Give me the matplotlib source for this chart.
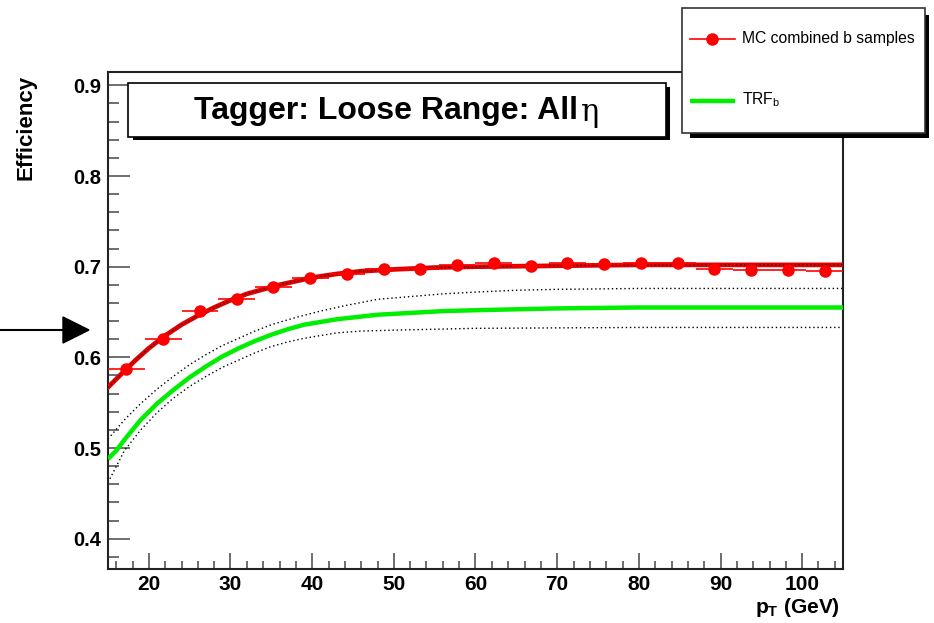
import numpy as np
import matplotlib
matplotlib.use("Agg")
import matplotlib.pyplot as plt
from matplotlib.patches import Rectangle, Polygon
from matplotlib.lines import Line2D

plt.rcParams['font.family'] = ['Liberation Sans', 'DejaVu Sans']
plt.rcParams['mathtext.fontset'] = 'custom'
plt.rcParams['mathtext.bf'] = 'Liberation Sans:bold'
plt.rcParams['mathtext.rm'] = 'Liberation Sans'
plt.rcParams['mathtext.it'] = 'Liberation Sans:italic'

# MC points (bin centres, efficiency)
pt_centers = [17.25, 21.75, 26.25, 30.75, 35.25, 39.75, 44.25, 48.75, 53.25, 57.75,
              62.25, 66.75, 71.25, 75.75, 80.25, 84.75, 89.25, 93.75, 98.25, 102.75]
mc_eff = [0.587, 0.620, 0.651, 0.664, 0.678, 0.687, 0.692, 0.697, 0.697, 0.702,
          0.704, 0.701, 0.704, 0.703, 0.704, 0.704, 0.697, 0.696, 0.696, 0.695]
bin_half = 2.25

# fit to MC
fit_x = [15, 16, 17, 18.5, 20, 22, 24, 26, 28, 30, 32, 34, 36, 38, 40, 43, 46,
         50, 55, 60, 70, 80, 105]
fit_y = [0.567, 0.576, 0.585, 0.598, 0.610, 0.624, 0.636, 0.646, 0.655, 0.663,
         0.670, 0.675, 0.680, 0.684, 0.688, 0.692, 0.695, 0.697, 0.699, 0.700,
         0.701, 0.702, 0.702]

# TRF_b curve and its band
trf_x = [15, 16, 17, 19, 21, 23, 25, 27, 29, 31, 33, 35, 37, 39, 41, 43, 45, 48,
         52, 56, 60, 65, 70, 80, 105]
trf_y = [0.488, 0.497, 0.509, 0.531, 0.549, 0.564, 0.578, 0.590, 0.601, 0.610,
         0.618, 0.625, 0.631, 0.636, 0.639, 0.642, 0.644, 0.647, 0.649, 0.651,
         0.652, 0.653, 0.654, 0.655, 0.655]
band_hi_x = [15, 17, 19, 21, 23, 25, 27, 29, 31, 33, 35, 38, 41, 44, 48, 52, 56,
             60, 65, 70, 80, 105]
band_hi = [0.510, 0.531, 0.549, 0.565, 0.579, 0.592, 0.603, 0.613, 0.621, 0.629,
           0.636, 0.644, 0.651, 0.657, 0.664, 0.667, 0.670, 0.672, 0.674, 0.675,
           0.676, 0.676]
band_lo_x = [15, 17, 19, 21, 23, 25, 27, 29, 31, 33, 35, 37, 39, 41, 43, 46, 50,
             60, 80, 105]
band_lo = [0.462, 0.497, 0.520, 0.539, 0.555, 0.568, 0.579, 0.589, 0.597, 0.605,
           0.612, 0.617, 0.621, 0.624, 0.627, 0.629, 0.630, 0.632, 0.633, 0.633]

W, H = 934, 623


def fx(x):
    return x / W


def fy(y):
    return 1 - y / H


fig = plt.figure(figsize=(W / 100, H / 100), dpi=100)
fig.patch.set_facecolor('white')

ax = fig.add_axes([fx(108), fy(569), (843 - 108) / W, (569 - 72) / H])
ax.set_xlim(15, 105)
ax.set_ylim(0.3666, 0.9147)

ax.plot(band_hi_x, band_hi, ls=(0, (1, 2)), color='black', lw=1.0, zorder=2)
ax.plot(band_lo_x, band_lo, ls=(0, (1, 2)), color='black', lw=1.0, zorder=2)
ax.plot(trf_x, trf_y, color='#00ee00', lw=3.2, solid_capstyle='butt', zorder=3)

ax.plot(fit_x, fit_y, color='#e00000', lw=3.4, zorder=3)
ax.plot(fit_x, fit_y, ls=(0, (1, 2.5)), color='black', lw=0.8, zorder=4)
ax.errorbar(pt_centers, mc_eff, xerr=bin_half, fmt='o', color='#ff0000', ms=8,
            elinewidth=1.2, capsize=0, zorder=5)

ax.set_xticks(np.arange(20, 101, 10))
ax.set_xticks(np.arange(16, 105, 2), minor=True)
ax.set_yticks([0.4, 0.5, 0.6, 0.7, 0.8, 0.9])
ax.set_yticks(np.arange(0.38, 0.92, 0.02), minor=True)
ax.set_yticklabels(['0.4', '0.5', '0.6', '0.7', '0.8', '0.9'])
ax.tick_params(axis='y', which='major', direction='in', length=16, width=1.2,
               color='#555555', labelsize=14.5, pad=5)
ax.tick_params(axis='y', which='minor', direction='in', length=8, width=1.2, color='#555555')
ax.tick_params(axis='x', which='major', direction='in', length=11.5, width=1.2,
               color='#555555', labelsize=15, pad=4.5)
ax.tick_params(axis='x', which='minor', direction='in', length=6, width=1.2, color='#555555')
for lab in ax.get_xticklabels() + ax.get_yticklabels():
    lab.set_fontweight('bold')
for s in ax.spines.values():
    s.set_color('#222222')
    s.set_linewidth(1.5)

# axis titles
fig.text(fx(26), fy(127), 'Efficiency', rotation=90, ha='center', va='center',
         fontsize=16, fontweight='bold')
fig.text(fx(840), fy(613), r'$\mathbf{p_T}$ (GeV)', ha='right', va='baseline',
         fontsize=15, fontweight='bold')

# title box with shadow
fig.add_artist(Rectangle((fx(133), fy(140)), (670 - 133) / W, (140 - 87) / H,
                         transform=fig.transFigure, facecolor='black', edgecolor='none'))
fig.add_artist(Rectangle((fx(128), fy(137)), (666 - 128) / W, (137 - 83) / H,
                         transform=fig.transFigure, facecolor='white', edgecolor='black', lw=1.2))
fig.text(fx(578), fy(111), 'Tagger: Loose Range: All', ha='right', va='center',
         fontsize=23, fontweight='bold')
fig.text(fx(581), fy(112), 'η', ha='left', va='center', fontsize=22,
         family=['DejaVu Serif'])

# legend box with shadow
fig.add_artist(Rectangle((fx(690), fy(138)), (929 - 690) / W, (138 - 15) / H,
                         transform=fig.transFigure, facecolor='black', edgecolor='none'))
fig.add_artist(Rectangle((fx(682), fy(133)), (925 - 682) / W, (133 - 8) / H,
                         transform=fig.transFigure, facecolor='white', edgecolor='#333333', lw=1.2))
fig.add_artist(Line2D([fx(690), fx(735)], [fy(39), fy(39)], transform=fig.transFigure,
                      color='#ff0000', lw=1.2))
fig.add_artist(Line2D([fx(712)], [fy(39)], transform=fig.transFigure, marker='o',
                      color='#ff0000', ms=8, lw=0))
fig.text(fx(742), fy(39), 'MC combined b samples', ha='left', va='center', fontsize=11.3)
fig.add_artist(Line2D([fx(690), fx(735)], [fy(101), fy(101)], transform=fig.transFigure,
                      color='#00ee00', lw=3.2, solid_capstyle='butt'))
fig.text(fx(742), fy(100), r'TRF$_\mathrm{b}$', ha='left', va='center', fontsize=11.3)

# arrow on the left
fig.add_artist(Line2D([fx(0), fx(66)], [fy(330), fy(330)], transform=fig.transFigure,
                      color='black', lw=1.5))
fig.add_artist(Polygon([(fx(63), fy(317)), (fx(89), fy(330)), (fx(63), fy(343))],
                       closed=True, transform=fig.transFigure, facecolor='black',
                       edgecolor='black'))

fig.savefig('out.png', dpi=100, facecolor='white')
